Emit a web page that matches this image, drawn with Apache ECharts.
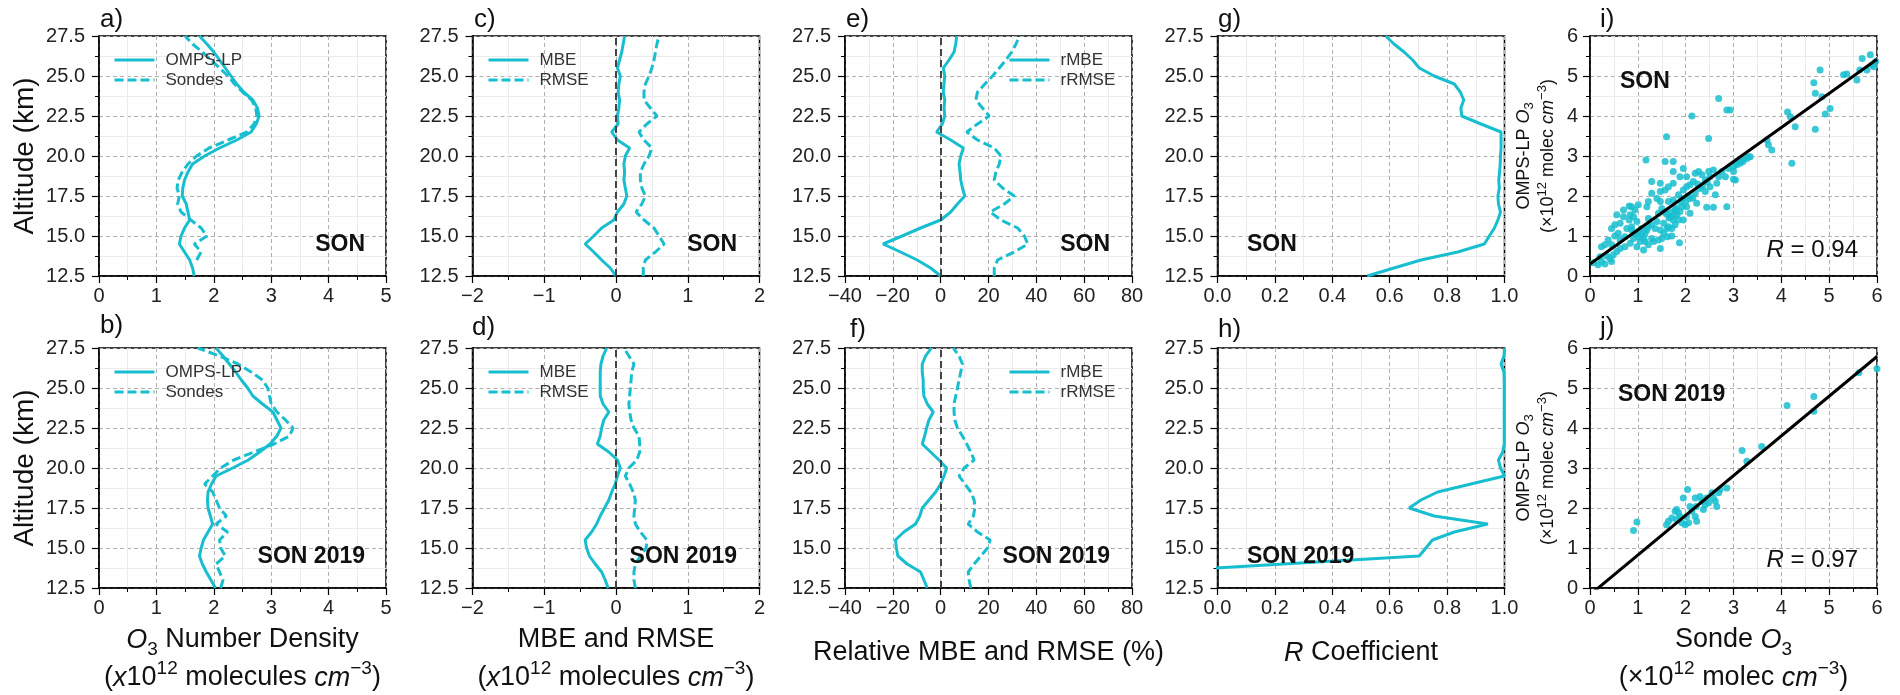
<!DOCTYPE html>
<html><head><meta charset="utf-8">
<script src="https://cdn.jsdelivr.net/npm/echarts@6/dist/echarts.min.js"></script>
<style>html,body{margin:0;padding:0;background:#fff}#c{width:1900px;height:695px}</style>
</head><body><div id="c"></div>
<script>
// ---------- DATA ----------
const ALT = [12.5,13,13.5,14,14.5,15,15.5,16,16.5,17,17.5,18,18.5,19,19.5,20,20.5,21,21.5,22,22.5,23,23.5,24,24.5,25,25.5,26,26.5,27,27.5];
const A_OMPS   = [1.66,1.63,1.58,1.49,1.40,1.43,1.49,1.58,1.55,1.52,1.45,1.46,1.49,1.55,1.63,1.84,2.10,2.40,2.65,2.74,2.79,2.76,2.68,2.52,2.40,2.30,2.20,2.10,2.00,1.88,1.75];
const A_SONDES = [null,null,1.70,1.78,1.66,1.88,1.78,1.60,1.43,1.37,1.40,1.36,1.38,1.45,1.55,1.70,1.92,2.25,2.58,2.70,2.75,2.73,2.66,2.50,2.36,2.25,2.10,1.95,1.80,1.63,1.50];
const B_OMPS   = [2.03,1.95,1.87,1.80,1.75,1.78,1.82,1.90,1.98,1.94,1.90,1.89,1.90,1.96,2.04,2.33,2.60,2.80,2.98,3.10,3.17,3.10,3.03,2.85,2.68,2.59,2.48,2.38,2.27,2.16,2.04];
const B_SONDES = [2.12,2.16,2.10,2.04,2.20,2.12,2.10,2.24,2.04,2.22,2.10,2.04,1.98,1.84,1.98,2.12,2.35,2.70,3.05,3.32,3.38,3.25,3.10,3.00,2.97,2.94,2.85,2.65,2.42,2.10,1.72];
const C_MBE  = [0.00,-0.08,-0.20,-0.31,-0.43,-0.31,-0.20,-0.03,0.02,0.11,0.15,0.13,0.11,0.12,0.11,0.13,0.19,0.02,-0.06,0.03,0.02,0.04,0.05,0.03,0.04,0.06,0.02,0.05,0.08,0.10,0.12];
const C_RMSE = [0.38,0.38,0.41,0.55,0.67,0.60,0.53,0.39,0.28,0.36,0.41,0.36,0.34,0.34,0.39,0.46,0.50,0.39,0.32,0.43,0.57,0.48,0.39,0.39,0.41,0.46,0.50,0.53,0.55,0.57,0.60];
const D_MBE  = [-0.11,-0.15,-0.20,-0.29,-0.37,-0.41,-0.43,-0.34,-0.27,-0.22,-0.16,-0.10,-0.06,-0.01,0.02,0.06,0.02,-0.10,-0.26,-0.22,-0.20,-0.17,-0.10,-0.18,-0.22,-0.22,-0.22,-0.22,-0.21,-0.18,-0.13];
const D_RMSE = [0.27,0.25,0.25,0.27,0.34,0.42,0.43,0.34,0.27,0.25,0.26,0.27,0.24,0.19,0.13,0.18,0.29,0.33,0.33,0.32,0.25,0.21,0.19,0.18,0.19,0.20,0.21,0.22,0.25,0.18,0.11];
const E_RMBE  = [0,-4.2,-9.8,-16.8,-24.1,-16.1,-8.4,0,4.2,7.0,10.1,9.1,8.4,8.1,7.7,8.4,9.5,4.2,-1.7,0.7,1.7,1.4,1.7,1.1,1.4,1.7,1.1,3.5,5.6,6.3,6.7];
const E_RRMSE = [22.4,22.4,23.8,30.8,36.4,35.0,32.2,25.2,20.7,26.6,30.8,25.9,22.4,23.1,24.5,25.2,22.4,15.4,10.9,15.4,20.3,17.5,14.7,15.4,18.5,21.7,24.5,27.3,29.7,31.5,32.9];
const F_RMBE  = [-5.6,-7.0,-8.4,-14.0,-17.9,-18.5,-18.9,-15.4,-10.5,-8.7,-7.7,-4.9,-2.1,0,1.4,2.5,-0.7,-4.2,-7.7,-6.7,-5.9,-4.9,-3.1,-5.6,-7.0,-7.3,-7.3,-7.7,-7.7,-6.3,-3.9];
const F_RRMSE = [12.6,11.9,11.5,14.0,16.8,19.6,20.7,15.4,11.5,13.7,14.3,14.0,12.6,10.1,7.7,9.8,14.0,12.6,10.9,9.1,7.0,5.9,5.6,5.6,6.3,7.0,7.7,8.4,9.1,7.7,5.3];
const G_R = [0.522,0.615,0.709,0.837,0.930,0.947,0.965,0.977,0.986,0.979,0.977,0.982,0.980,0.983,0.985,0.986,0.988,0.988,0.988,0.918,0.851,0.848,0.858,0.846,0.825,0.755,0.703,0.680,0.650,0.615,0.586];
const H_R = [null,null,-0.23,0.23,0.703,0.726,0.749,0.825,0.942,0.755,0.668,0.709,0.767,0.883,1.0,0.986,0.979,0.994,0.999,0.999,0.999,0.999,0.999,0.999,0.999,0.999,0.999,0.998,0.988,0.998,1.0];

const I_SONDE = [0.07,0.17,0.24,0.31,0.45,0.21,0.35,0.42,0.49,0.24,0.31,0.45,0.38,0.45,0.52,0.59,0.63,0.73,0.77,0.82,0.84,0.91,0.94,1.01,0.87,0.82,0.98,0.87,0.91,1.01,1.05,1.12,1.15,1.19,1.22,1.29,1.36,1.40,1.12,1.22,1.29,1.47,1.54,1.61,1.62,1.71,1.87,1.74,1.68,1.82,1.88,1.78,1.85,1.92,2.00,1.92,1.85,1.74,1.64,1.50,1.43,1.47,1.29,1.47,1.95,2.02,2.09,2.16,2.20,2.27,2.34,2.41,2.48,2.51,2.58,2.69,2.76,2.83,2.90,3.00,3.07,3.14,3.20,3.28,3.35,3.00,2.62,2.44,2.58,2.86,2.23,2.09,2.02,2.09,1.95,2.20,2.30,2.51,2.65,2.41,1.57,1.64,1.74,1.88,1.95,1.47,1.29,1.74,2.02,1.40,1.19,1.22,0.70,0.56,0.63,0.52,0.70,0.87,1.08,1.22,1.54,1.64,1.71,1.78,1.43,1.50,1.33,0.63,0.56,0.98,0.84,0.73,0.94,1.01,1.08,1.15,1.47,2.13,2.69,2.86,2.93,1.60,2.48,1.17,1.57,3.73,3.80,3.70,4.19,4.13,4.29,4.22,4.71,4.68,4.71,4.81,4.85,4.92,5.02,5.30,5.37,5.58,5.69,5.86,5.90,5.79,5.93,5.97,5.64,3.18,3.31,3.00,3.04,3.07,1.74,1.60,1.70,1.75,1.80,1.65,1.55,1.90,2.05,2.15,2.25,2.35,2.45];
const I_OMPS  = [0.33,0.28,0.36,0.30,0.36,0.48,0.50,0.44,0.53,0.73,0.78,0.78,0.90,1.19,1.00,1.07,0.90,0.98,1.19,1.40,1.53,1.48,1.65,1.78,1.73,1.75,1.36,1.15,0.94,0.98,0.86,0.94,1.07,1.15,1.23,1.28,1.19,1.36,0.65,0.78,0.94,1.15,1.07,1.19,0.98,1.00,0.83,1.40,1.48,1.53,1.61,1.65,1.40,1.73,1.86,1.94,2.03,1.90,1.86,1.69,1.57,1.86,2.07,2.11,2.15,2.23,2.28,2.36,2.57,2.61,2.53,2.40,2.61,2.48,2.65,2.48,2.61,2.48,2.69,2.61,2.78,2.82,2.86,2.94,2.98,2.42,2.03,1.72,1.72,1.73,1.82,1.94,1.73,1.57,1.40,2.07,2.19,2.23,2.32,2.11,2.15,2.23,2.32,2.48,2.69,2.32,2.36,2.86,2.48,1.94,1.73,1.86,1.65,1.53,1.32,1.28,1.48,1.23,1.19,1.44,1.32,1.23,1.19,1.28,0.90,0.94,0.86,0.69,0.61,0.73,0.82,0.73,1.07,1.11,1.03,0.86,0.69,4.00,4.44,4.15,4.15,3.48,3.44,2.90,2.86,3.28,3.15,3.40,3.98,4.10,3.73,2.82,3.67,4.83,4.57,5.15,4.48,4.05,4.19,5.03,5.05,4.90,5.44,5.53,5.28,5.15,5.23,5.36,5.15,2.92,2.98,2.73,2.40,2.86,2.61,1.55,1.60,1.50,1.70,1.45,1.60,1.85,2.00,1.95,2.30,2.25,2.35];
const J_SONDE = [0.91,0.98,1.64,1.71,1.78,1.81,1.85,1.88,1.92,1.95,2.04,2.02,2.06,2.13,2.20,2.20,2.22,2.23,2.30,2.34,2.37,2.41,2.44,2.48,2.55,2.58,2.62,2.65,2.69,2.72,2.86,3.18,3.28,3.59,4.12,4.68,4.68,5.62,6.00,1.81,1.99,1.60,2.09];
const J_OMPS  = [1.44,1.65,1.67,1.75,1.92,1.96,1.88,1.79,1.63,2.25,2.46,1.79,1.63,1.92,2.25,1.79,2.04,1.67,2.29,2.17,1.96,2.08,2.25,2.13,2.38,2.25,2.17,2.04,2.38,2.46,2.50,3.44,3.17,3.54,4.56,4.79,4.42,5.38,5.48,1.71,1.58,1.58,2.04];
const I_FIT = [0.853, 0.30];   // slope, intercept
const J_FIT = [0.993, -0.17];
const R_VALUES = ['0.94', '0.97'];
const SEASON_LABELS = ['SON', 'SON 2019'];
const PANEL_LETTERS = ['a)','b)','c)','d)','e)','f)','g)','h)','i)','j)'];

// ---------- STYLE ----------
const FONT = '"Liberation Sans", Arial, sans-serif';
const CYAN = '#17becf';
const LEFTS = [99, 472.5, 845, 1217.5, 1590];
const TOPS = [36, 348];
const PW = 287, PH = 240;
const XR = [[0,5,1],[-2,2,1],[-40,80,20],[0,1,0.2],[0,6,1]];

const minus = v => String(v).replace('-', '\u2212');
function axis(min, max, interval, fmt, margin) {
  return {
    type: 'value', min, max, interval,
    axisLine: {show: true, onZero: false, lineStyle: {color: '#000', width: 1.5}},
    axisTick: {show: true, length: 7, lineStyle: {color: '#000', width: 1.2}},
    minorTick: {show: true, splitNumber: 2, length: 4, lineStyle: {color: '#000', width: 1}},
    splitLine: {show: true, lineStyle: {color: '#b0b0b0', type: [4, 3], width: 1}},
    minorSplitLine: {show: true, lineStyle: {color: '#ebebeb', width: 1}},
    axisLabel: {fontSize: 20, color: '#222', fontFamily: FONT, formatter: fmt, margin,
                showMinLabel: true, showMaxLabel: true, hideOverlap: false},
    nameMoveOverlap: false
  };
}
function rich(fs) {
  const small = Math.round(fs * 0.7);
  return {
    i: {fontStyle: 'italic', fontSize: fs, fontFamily: FONT, color: '#111'},
    sub: {fontSize: small, fontFamily: FONT, color: '#111', verticalAlign: 'bottom', lineHeight: small + 2},
    sup: {fontSize: small, fontFamily: FONT, color: '#111', verticalAlign: 'top', lineHeight: small + 2}
  };
}

const grids = [], xAxes = [], yAxes = [], series = [], legends = [], graphics = [];
for (let col = 0; col < 5; col++) {
  for (let row = 0; row < 2; row++) {
    const k = col * 2 + row;
    grids.push({left: LEFTS[col], top: TOPS[row], width: PW, height: PH, show: true,
                borderColor: '#000', borderWidth: 1.5, containLabel: false, outerBoundsMode: 'none'});
    const [xmin, xmax, xint] = XR[col];
    const xfmt = col === 3 ? (v => v.toFixed(1)) : (v => minus(Math.round(v)));
    xAxes.push(Object.assign(axis(xmin, xmax, xint, xfmt, 10), {gridIndex: k}));
    if (col < 4) {
      yAxes.push(Object.assign(axis(12.5, 27.5, 2.5, v => v.toFixed(1), 14), {gridIndex: k}));
    } else {
      yAxes.push(Object.assign(axis(0, 6, 1, v => String(Math.round(v)), 12), {gridIndex: k}));
    }
  }
}

function prof(vals) { const out = []; vals.forEach((v, i) => { if (v !== null) out.push([v, ALT[i]]); }); return out; }
function lineSeries(name, vals, k, dashed, extra) {
  return Object.assign({
    type: 'line', name, xAxisIndex: k, yAxisIndex: k, data: prof(vals),
    symbol: 'none', clip: true, animation: false, z: 3,
    lineStyle: {color: CYAN, width: 3, type: dashed ? [9, 4] : 'solid'},
    itemStyle: {color: CYAN}
  }, extra || {});
}
const zeroLine = {markLine: {silent: true, symbol: 'none', label: {show: false}, animation: false,
  lineStyle: {color: '#444', type: [7, 4], width: 2}, data: [{xAxis: 0}]}};

series.push(lineSeries('OMPS-LP', A_OMPS, 0, false), lineSeries('Sondes', A_SONDES, 0, true));
series.push(lineSeries('OMPS-LP', B_OMPS, 1, false), lineSeries('Sondes', B_SONDES, 1, true));
series.push(lineSeries('MBE', C_MBE, 2, false, zeroLine), lineSeries('RMSE', C_RMSE, 2, true));
series.push(lineSeries('MBE', D_MBE, 3, false, zeroLine), lineSeries('RMSE', D_RMSE, 3, true));
series.push(lineSeries('rMBE', E_RMBE, 4, false, zeroLine), lineSeries('rRMSE', E_RRMSE, 4, true));
series.push(lineSeries('rMBE', F_RMBE, 5, false, zeroLine), lineSeries('rRMSE', F_RRMSE, 5, true));
series.push(lineSeries('R', G_R, 6, false), lineSeries('R', H_R, 7, false));

[[I_SONDE, I_OMPS, I_FIT, 8], [J_SONDE, J_OMPS, J_FIT, 9]].forEach(([xs, ys, fit, k]) => {
  series.push({type: 'scatter', xAxisIndex: k, yAxisIndex: k, symbolSize: 7, animation: false, z: 2,
    itemStyle: {color: CYAN, opacity: 0.85}, data: xs.map((x, i) => [x, ys[i]])});
  const [m, b] = fit;
  series.push({type: 'line', xAxisIndex: k, yAxisIndex: k, symbol: 'none', clip: true, animation: false, z: 4,
    lineStyle: {color: '#000', width: 3}, data: [[0, b], [6, 6 * m + b]]});
});

// legends
function legend(names, left, top) {
  return {data: names, left, top, orient: 'vertical', padding: 0, itemGap: 0, itemWidth: 40, itemHeight: 14,
    selectedMode: false,
    itemStyle: {opacity: 0, borderWidth: 0},
    lineStyle: {width: 3},
    textStyle: {fontSize: 17, color: '#333', fontFamily: FONT, lineHeight: 20, padding: [0, 0, 0, 6]}};
}
legends.push(legend(['OMPS-LP', 'Sondes'], 113, 50), legend(['OMPS-LP', 'Sondes'], 113, 362));
legends.push(legend(['MBE', 'RMSE'], 487, 50), legend(['MBE', 'RMSE'], 487, 362));
legends.push(legend(['rMBE', 'rRMSE'], 1008, 50), legend(['rMBE', 'rRMSE'], 1008, 362));

// axis titles
const XT = 27;
function xName(k, text, gap) {
  Object.assign(xAxes[k], {name: text, nameLocation: 'middle', nameGap: gap,
    nameTextStyle: {fontSize: XT, fontFamily: FONT, color: '#111', lineHeight: 38, rich: rich(XT)}});
}
xName(1, '{i|O}{sub|3} Number Density\n({i|x}10{sup|12} molecules {i|cm}{sup|\u22123})', 33);
xName(3, 'MBE and RMSE\n({i|x}10{sup|12} molecules {i|cm}{sup|\u22123})', 33);
xName(5, 'Relative MBE and RMSE (%)', 46);
xName(7, '{i|R} Coefficient', 46);
xName(9, 'Sonde {i|O}{sub|3}\n(\u00d710{sup|12} molec {i|cm}{sup|\u22123})', 33);
[0, 1].forEach(k => Object.assign(yAxes[k], {name: 'Altitude (km)', nameLocation: 'middle', nameGap: 60,
  nameTextStyle: {fontSize: 28, fontFamily: FONT, color: '#111'}}));
[8, 9].forEach(k => Object.assign(yAxes[k], {
  name: 'OMPS-LP {i|O}{sub|3}\n(\u00d710{sup|12} molec {i|cm}{sup|\u22123})', nameLocation: 'middle', nameGap: 30,
  nameTextStyle: {fontSize: 18, fontFamily: FONT, color: '#111', lineHeight: 24, rich: rich(18)}}));

// annotations
function txt(x, y, text, font, align, extra) {
  return {type: 'text', x, y, silent: true, z: 10,
    style: Object.assign({text, font, fill: '#111', align, verticalAlign: 'middle',
      textAlign: align, textVerticalAlign: 'middle'}, extra || {})};
}
const BOLD = 'bold 23px ' + FONT;
const PANEL_POS = [[100,20],[100,326],[474,20],[472,328],[846,20],[850,330],[1218,20],[1218,330],[1600,20],[1600,328]];
PANEL_POS.forEach((p, i) => graphics.push(txt(p[0], p[1], PANEL_LETTERS[i], '26px ' + FONT, 'left')));
const SEASON_POS = [[365,245,'right',0],[365,557,'right',1],[737,245,'right',0],[737,557,'right',1],
  [1110,245,'right',0],[1110,557,'right',1],[1247,245,'left',0],[1247,557,'left',1],[1620,82,'left',0],[1618,395,'left',1]];
SEASON_POS.forEach(p => graphics.push(txt(p[0], p[1], SEASON_LABELS[p[3]], BOLD, p[2])));
[[1858, 250, 0], [1858, 560, 1]].forEach(p => graphics.push(txt(p[0], p[1], '{i|R} = ' + R_VALUES[p[2]], '24px ' + FONT, 'right',
  {rich: {i: {fontStyle: 'italic', fontSize: 24, fontFamily: FONT, fill: '#111', color: '#111'}}})));

const chart = echarts.init(document.getElementById('c'), null, {renderer: 'canvas'});
chart.setOption({
  animation: false, backgroundColor: '#fff',
  grid: grids, xAxis: xAxes, yAxis: yAxes, series, legend: legends, graphic: graphics
});
</script></body></html>
